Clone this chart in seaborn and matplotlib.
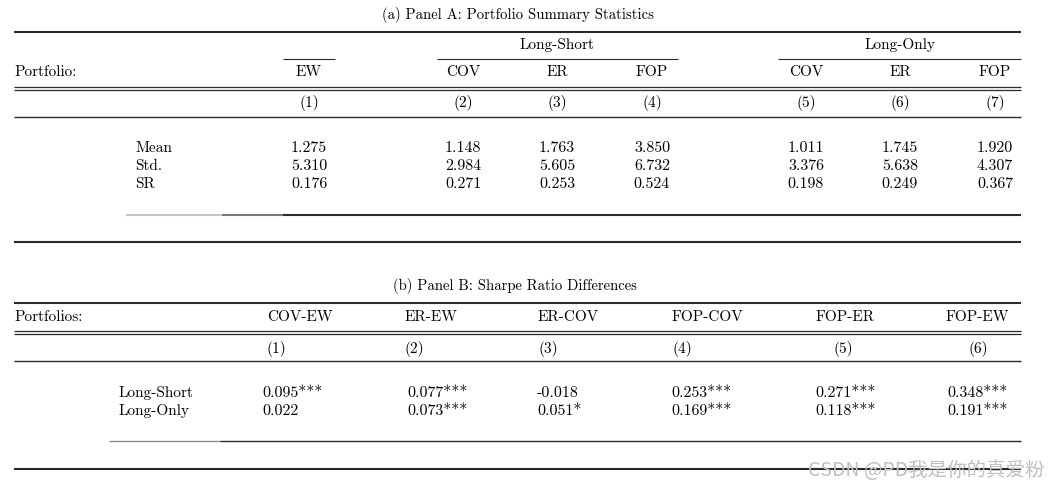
import numpy as np
import matplotlib.pyplot as plt
import seaborn as sns

# ---------------------------
# Table contents
# ---------------------------
title_a = "(a) Panel A: Portfolio Summary Statistics"
groups_a = ["Long-Short", "Long-Only"]
cols_a = ["EW", "COV", "ER", "FOP", "COV", "ER", "FOP"]
rows_a = ["Mean", "Std.", "SR"]
mean_a = ["1.275", "1.148", "1.763", "3.850", "1.011", "1.745", "1.920"]
std_a = ["5.310", "2.984", "5.605", "6.732", "3.376", "5.638", "4.307"]
sr_a = ["0.176", "0.271", "0.253", "0.524", "0.198", "0.249", "0.367"]

title_b = "(b) Panel B: Sharpe Ratio Differences"
cols_b = ["COV-EW", "ER-EW", "ER-COV", "FOP-COV", "FOP-ER", "FOP-EW"]
rows_b = ["Long-Short", "Long-Only"]
long_short_b = ["0.095***", "0.077***", "-0.018", "0.253***", "0.271***", "0.348***"]
long_only_b = ["0.022", "0.073***", "0.051*", "0.169***", "0.118***", "0.191***"]

# ---------------------------
# Layout (pixel grid of the figure)
# ---------------------------
W, H = 1048, 492
X0, X1 = 14, 1021
xa = [309, 463, 557, 652, 806, 900, 995]          # panel A column centres
xb_head = [267, 405, 538, 672, 816, 946]          # panel B header left edges
xb_val = [262, 407, 537, 671, 815, 947]           # panel B value left edges
xb_num = [267, 405, 538, 672, 843, 978]

sns.set_theme(style="white")
plt.rcParams['font.family'] = ['cmr10', 'DejaVu Serif']
plt.rcParams['axes.formatter.use_mathtext'] = True

fig = plt.figure(figsize=(W / 100, H / 100), dpi=100)
ax = fig.add_axes([0, 0, 1, 1])
ax.set_xlim(0, W)
ax.set_ylim(H, 0)
ax.axis("off")

FS = 11
FS_NUM = 11.5
DARK = "#2b2b2b"


def txt(x, y, s, ha="center", size=FS, **kw):
    ax.text(x, y, s, ha=ha, va="center", fontsize=size, color="black", **kw)


def rule(y, x0=X0, x1=X1, lw=1.0, color=DARK):
    ax.hlines(y, x0, x1, colors=color, linewidth=lw)


# ---------------------------
# Panel A
# ---------------------------
txt(518, 15, title_a, size=10.6)
rule(32, lw=1.5)
txt(557, 45, groups_a[0])
txt(900, 45, groups_a[1])
rule(59, 283, 335, lw=0.8)
rule(59, 437, 678, lw=0.8)
rule(59, 778, X1, lw=0.8)
txt(X0, 72, "Portfolio:", ha="left")
for x, c in zip(xa, cols_a):
    txt(x, 72, c)
rule(87, lw=0.9)
rule(90, lw=0.9)
for i, x in enumerate(xa):
    txt(x, 103, f"({i + 1})")
rule(117, lw=1.0)

for y, lab, vals in zip([148, 166, 184], rows_a, [mean_a, std_a, sr_a]):
    txt(135, y, lab, ha="left")
    for x, v in zip(xa, vals):
        txt(x, y, v, size=FS_NUM)

rule(215, 126, 222, lw=1.5, color="#c4c4c4")
rule(215, 222, 283, lw=1.5, color="#7a7a7a")
rule(215, 283, X1, lw=1.5)
rule(242, lw=1.5)

# ---------------------------
# Panel B
# ---------------------------
txt(515, 286, title_b, size=10.6)
rule(303, lw=1.5)
txt(X0, 317, "Portfolios:", ha="left")
for x, c in zip(xb_head, cols_b):
    txt(x, 317, c, ha="left")
rule(331, lw=0.9)
rule(334, lw=0.9)
for i, x in enumerate(xb_num):
    txt(x, 349, f"({i + 1})", ha="left" if i < 4 else "center")
rule(361, lw=1.0)

for y, lab, vals in zip([393, 411], rows_b, [long_short_b, long_only_b]):
    txt(119, y, lab, ha="left")
    for x, v in zip(xb_val, vals):
        txt(x, y, v, ha="left", size=FS_NUM)

rule(441, 109, 220, lw=1.0, color="#8a8a8a")
rule(441, 220, X1, lw=1.0)
rule(469, lw=1.5)

# watermark
ax.text(1045, 471, "CSDN @PD我是你的真爱粉", ha="right", va="center",
        fontsize=14, color="#c0c0c0",
        family=['Noto Sans CJK SC', 'DejaVu Sans'])

fig.savefig("out.png", dpi=100)
